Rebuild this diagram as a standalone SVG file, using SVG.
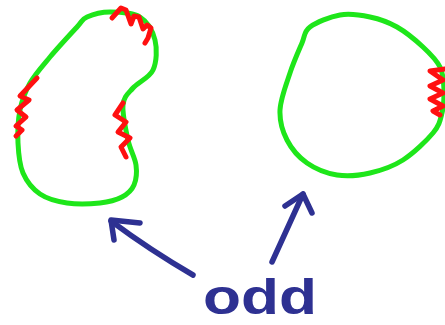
<svg xmlns="http://www.w3.org/2000/svg" width="445" height="325" viewBox="0 0 445 325">
  <style>
    .loop { fill: none; stroke: #1ee61a; stroke-width: 5; stroke-linecap: round; stroke-linejoin: round; }
    .wave { fill: none; stroke: #ff1010; stroke-width: 5; stroke-linecap: round; stroke-linejoin: round; }
    .pen  { fill: none; stroke: #2e3192; stroke-width: 5.5; stroke-linecap: round; stroke-linejoin: round; }
    .label { font-family: "Liberation Sans", Arial, sans-serif; font-weight: bold; font-size: 50px; fill: #2e3192; }
  </style>
  <rect width="445" height="325" fill="#ffffff"/>

  <!-- kidney-shaped curve with three wavy segments -->
  <g id="curve-left">
    <path class="loop" d="M87,17 C92.5,14.5 101.2,12 110,12 C118.8,12 132.5,12.3 140,17 C147.5,21.7 152.8,31.2 155,40 C157.2,48.8 156.7,62 153,70 C149.3,78 138,82.2 133,88 C128,93.8 123.8,96.3 123,105 C122.2,113.7 125.8,130 128,140 C130.2,150 135,157.5 136,165 C137,172.5 136.3,179.7 134,185 C131.7,190.3 127.7,194 122,197 C116.3,200 109.2,202 100,203 C90.8,204 77,204.5 67,203 C57,201.5 47.3,199 40,194 C32.7,189 26.7,181.5 23,173 C19.3,164.5 18.5,153.5 18,143 C17.5,132.5 18,120 20,110 C22,100 25,91.8 30,83 C35,74.2 42.2,66.3 50,57 C57.8,47.7 70.8,33.7 77,27 C83.2,20.3 81.5,19.5 87,17 Z"/>
    <path class="wave" d="M112,18 L121,8 L126,10 L131,24 L134,16 L139,17 L143,29 L147,25 L151,28 L148,38 L145,43"/>
    <path class="wave" d="M37,78 L20,96 L29,100 L17,110 L26,117 L16,126 L22,130 L16,136"/>
    <path class="wave" d="M123,103 L115,115 L126,122 L118,132 L130,138 L121,147 L126,157"/>
  </g>

  <!-- round curve with one wavy segment -->
  <g id="curve-right">
    <path class="loop" d="M340,15 C330,16.7 316.3,22.3 310,27 C303.7,31.7 305.3,35.3 302,43 C298.7,50.7 293.7,61.8 290,73 C286.3,84.2 280.5,98.8 280,110 C279.5,121.2 282.5,131.2 287,140 C291.5,148.8 298.7,157.2 307,163 C315.3,168.8 326.5,173.3 337,175 C347.5,176.7 359,175.5 370,173 C381,170.5 392.5,166.7 403,160 C413.5,153.3 426.5,140.8 433,133 C439.5,125.2 440.2,120.2 442,113 C443.8,105.8 444.3,97.7 444,90 C443.7,82.3 443.5,74.2 440,67 C436.5,59.8 430.2,53.7 423,47 C415.8,40.3 405.8,32 397,27 C388.2,22 379.5,19 370,17 C360.5,15 350,13.3 340,15 Z"/>
    <path class="wave" d="M445,69 L430,71 L443,80 L430,86 L443,93 L430,99 L443,106 L433,111 L440,115"/>
  </g>

  <!-- label -->
  <g id="label-odd">
    <text class="label" x="203" y="314" textLength="114" lengthAdjust="spacingAndGlyphs">odd</text>
  </g>

  <!-- arrows from the label to each curve -->
  <g id="connectors">
    <path class="pen" d="M193,275 Q150,250 111,221"/>
    <path class="pen" d="M140,223 L111,220 L114,240"/>
    <path class="pen" d="M272,262 L303,194"/>
    <path class="pen" d="M285,206 L303,194 L312,213"/>
  </g>
</svg>
